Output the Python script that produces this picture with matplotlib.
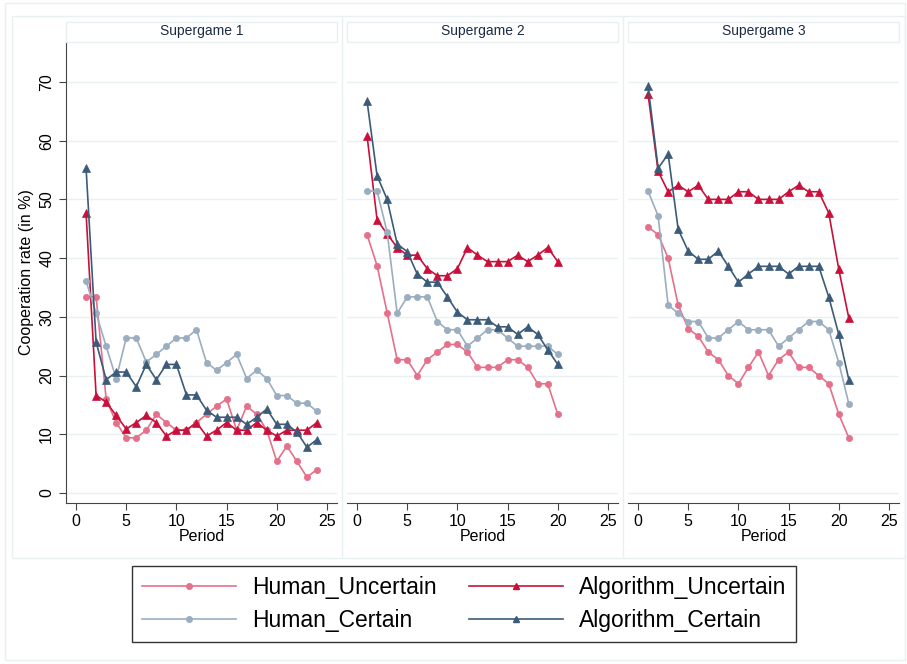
import numpy as np
import matplotlib.pyplot as plt
from matplotlib.patches import Rectangle
from matplotlib.lines import Line2D

plt.rcParams['font.family'] = ['Liberation Sans', 'DejaVu Sans']

# data (cooperation rate in %, by period)
panel_titles = ['Supergame 1', 'Supergame 2', 'Supergame 3']
series_names = ['Human_Uncertain', 'Algorithm_Uncertain', 'Human_Certain', 'Algorithm_Certain']

human_uncertain = [
    [33.4, 33.4, 16.0, 12.0, 9.4, 9.4, 10.7, 13.4, 12.0, 10.7, 10.7, 12.0, 13.4, 14.8, 16.0, 10.7,
     14.8, 13.4, 10.7, 5.4, 8.0, 5.4, 2.7, 4.0],
    [44.0, 38.7, 30.7, 22.7, 22.7, 20.0, 22.7, 24.0, 25.3, 25.3, 24.0, 21.4, 21.4, 21.4, 22.7, 22.7,
     21.4, 18.6, 18.6, 13.4],
    [45.3, 44.0, 40.0, 32.0, 28.0, 26.7, 24.0, 22.7, 20.0, 18.6, 21.4, 24.0, 20.0, 22.7, 24.0, 21.4,
     21.4, 20.0, 18.6, 13.4, 9.4],
]
algorithm_uncertain = [
    [47.7, 16.6, 15.5, 13.2, 10.9, 12.0, 13.2, 12.0, 9.7, 10.7, 10.7, 12.0, 9.7, 10.7, 12.0, 10.7,
     10.7, 12.0, 10.7, 9.7, 10.7, 10.7, 10.7, 12.0],
    [60.8, 46.5, 44.1, 41.8, 40.5, 40.5, 38.2, 37.0, 37.0, 38.2, 41.8, 40.5, 39.4, 39.4, 39.4, 40.5,
     39.4, 40.5, 41.8, 39.4],
    [67.9, 54.8, 51.3, 52.4, 51.3, 52.4, 50.0, 50.0, 50.0, 51.3, 51.3, 50.0, 50.0, 50.0, 51.3, 52.4,
     51.3, 51.3, 47.7, 38.1, 29.8],
]
human_certain = [
    [36.1, 30.6, 25.0, 19.5, 26.4, 26.4, 22.3, 23.6, 25.0, 26.4, 26.4, 27.8, 22.2, 20.9, 22.2, 23.6,
     19.5, 20.9, 19.5, 16.6, 16.6, 15.3, 15.3, 13.9],
    [51.4, 51.4, 44.4, 30.6, 33.4, 33.4, 33.4, 29.2, 27.8, 27.8, 25.0, 26.4, 27.8, 27.8, 26.4, 25.0,
     25.0, 25.0, 25.0, 23.6],
    [51.4, 47.2, 32.0, 30.6, 29.2, 29.2, 26.4, 26.4, 27.8, 29.2, 27.8, 27.8, 27.8, 25.0, 26.4, 27.8,
     29.2, 29.2, 27.8, 22.2, 15.2],
]
algorithm_certain = [
    [55.3, 25.7, 19.3, 20.6, 20.6, 18.1, 21.9, 19.3, 21.9, 21.9, 16.7, 16.7, 14.1, 12.9, 12.9, 12.9,
     11.7, 12.9, 14.3, 11.7, 11.7, 10.4, 7.8, 9.1],
    [66.7, 54.0, 50.0, 42.4, 41.1, 37.3, 35.9, 35.9, 33.4, 30.8, 29.5, 29.5, 29.5, 28.3, 28.3, 27.0,
     28.3, 27.0, 24.4, 21.9],
    [69.3, 55.3, 57.7, 44.9, 41.2, 39.8, 39.8, 41.2, 38.6, 35.9, 37.3, 38.6, 38.6, 38.6, 37.3, 38.6,
     38.6, 38.6, 33.4, 27.0, 19.3],
]

colors = ['#e5708b', '#c8103a', '#9aaebf', '#3b5b78']
markers = ['o', '^', 'o', '^']
msizes = [4.5, 5.5, 4.5, 5.5]
all_series = [human_uncertain, algorithm_uncertain, human_certain, algorithm_certain]

W, H = 907, 664
fig = plt.figure(figsize=(W / 100, H / 100), dpi=100)
grid_col = '#e8f0f2'


def fx(px):
    return px / W


def fy(py):
    return 1 - py / H


# outer frame and cell borders
fig.patches.append(Rectangle((fx(5), fy(660)), fx(900), 657 / H, transform=fig.transFigure,
                             fill=False, edgecolor=grid_col, lw=1))
fig.patches.append(Rectangle((fx(12), fy(558)), fx(893), 542 / H, transform=fig.transFigure,
                             fill=False, edgecolor=grid_col, lw=1))
for sx in [342, 623]:
    fig.add_artist(Line2D([fx(sx), fx(sx)], [fy(558), fy(16)], color=grid_col, lw=1))

panel_left = [66, 347, 628]
pw = 271
top, bottom = 42, 503

for i in range(3):
    ax = fig.add_axes([fx(panel_left[i]), fy(bottom), pw / W, (bottom - top) / H])
    for s, series in enumerate(all_series):
        vals = series[i]
        periods = np.arange(1, len(vals) + 1)
        ax.plot(periods, vals, color=colors[s], marker=markers[s], ms=msizes[s], lw=1.2,
                markeredgewidth=0.5, zorder=3)
    ax.set_xlim(-1, 26)
    ax.set_ylim(-1.7, 76.8)
    ax.set_yticks(range(0, 80, 10))
    ax.set_xticks(range(0, 30, 5))
    ax.grid(axis='y', color=grid_col, lw=1)
    ax.set_axisbelow(True)
    for sp in ['top', 'right']:
        ax.spines[sp].set_visible(False)
    ax.spines['bottom'].set_color('#444444')
    ax.tick_params(axis='x', labelsize=11.5, length=5, color='#444444', pad=3)
    ax.set_xlabel('Period', fontsize=11.5, labelpad=0)
    if i == 0:
        ax.spines['left'].set_color('#444444')
        ax.tick_params(axis='y', labelsize=11.5, length=5, color='#444444', labelrotation=90)
        for lab in ax.get_yticklabels():
            lab.set_va('center')
        ax.set_ylabel('Cooperation rate (in %)', fontsize=11.5, labelpad=4)
    else:
        ax.spines['left'].set_visible(False)
        ax.tick_params(axis='y', left=False, labelleft=False)

    # strip header
    fig.patches.append(Rectangle((fx(panel_left[i]), fy(42)), pw / W, 20 / H,
                                 transform=fig.transFigure, facecolor='white',
                                 edgecolor=grid_col, lw=1))
    fig.text(fx(panel_left[i] + pw / 2), fy(31), panel_titles[i], ha='center', va='center',
             fontsize=10, color='#1c2b45')

handles = [Line2D([], [], color=colors[s], marker=markers[s], ms=msizes[s] - 0.5, lw=1.2)
           for s in range(4)]
# matplotlib fills legend columns first: reorder so rows read HU/AU, HC/AC
order = [0, 2, 1, 3]
leg = fig.legend([handles[k] for k in order], [series_names[k] for k in order],
                 loc='upper center', ncol=2, bbox_to_anchor=(fx(464), fy(566)),
                 fontsize=16.5, handlelength=4.1, frameon=True, fancybox=False,
                 edgecolor='black', borderaxespad=0, borderpad=0.45, columnspacing=1.4,
                 handletextpad=0.7, labelspacing=0.42)
leg.get_frame().set_linewidth(1.0)

fig.savefig('out.png', dpi=100)
